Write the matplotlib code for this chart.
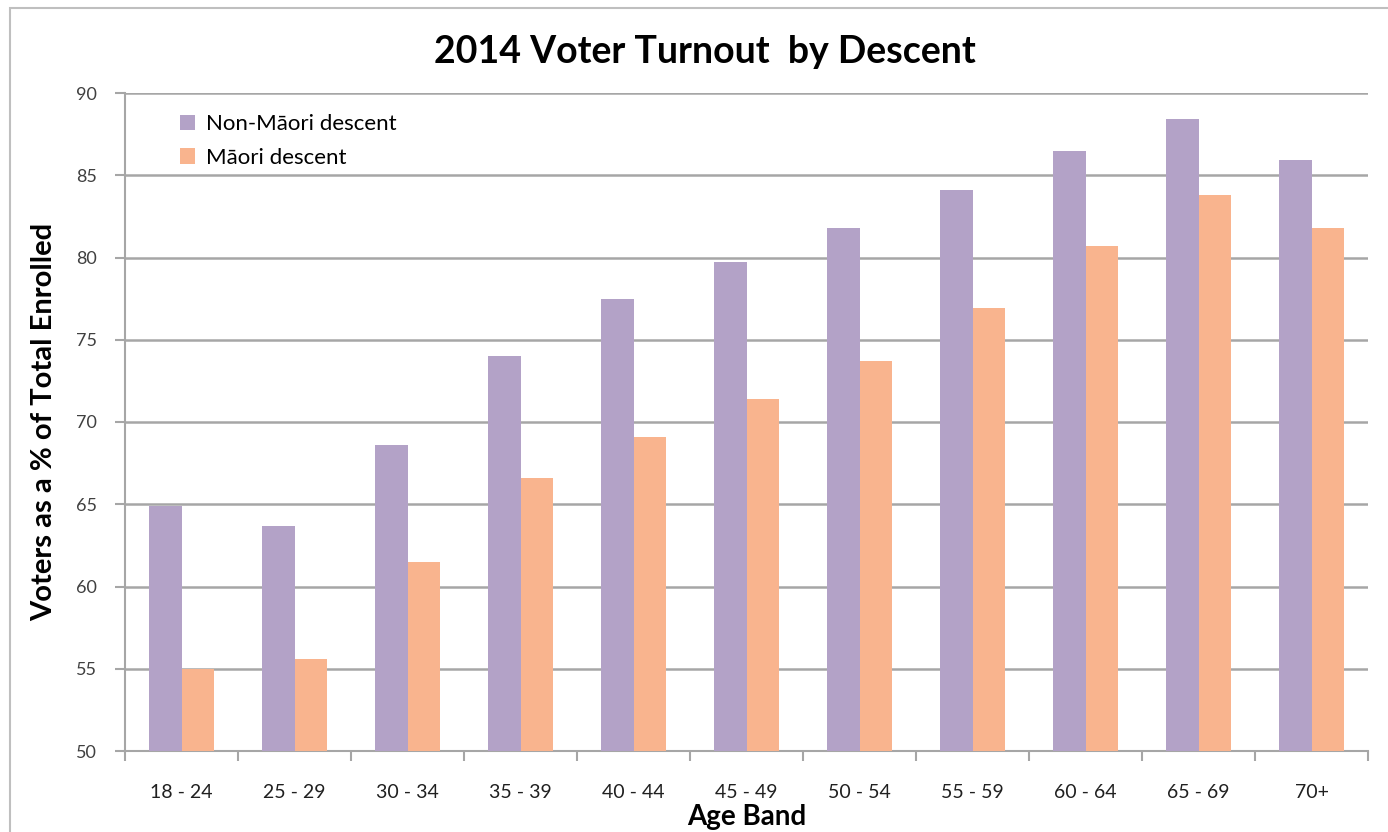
import numpy as np
import matplotlib.pyplot as plt
from matplotlib.patches import Rectangle

# Data
age_bands = ["18 - 24", "25 - 29", "30 - 34", "35 - 39", "40 - 44", "45 - 49",
             "50 - 54", "55 - 59", "60 - 64", "65 - 69", "70+"]
non_maori = [64.9, 63.7, 68.6, 74.0, 77.5, 79.7, 81.8, 84.1, 86.5, 88.4, 85.9]
maori = [55.0, 55.6, 61.5, 66.6, 69.1, 71.4, 73.7, 76.9, 80.7, 83.8, 81.8]

PURPLE = "#B3A2C7"
ORANGE = "#F9B48E"
GRID = "#A6A6A6"

plt.rcParams['font.family'] = ['Lato', 'DejaVu Sans']

fig = plt.figure(figsize=(13.88, 8.32), dpi=100)
ax = fig.add_axes([125 / 1388, 1 - 751 / 832, 1243 / 1388, 658 / 832])

# chart border like the Excel chart area
fig.patches.append(Rectangle((10 / 1388, -0.1), 1.2, 1 - 8 / 832 + 0.1,
                             transform=fig.transFigure, fill=False,
                             edgecolor="#BFBFBF", linewidth=1.5))

x = np.arange(len(age_bands))
w = 0.29
ax.bar(x - w / 2, non_maori, w, color=PURPLE, label="Non-Māori descent", zorder=3)
ax.bar(x + w / 2, maori, w, color=ORANGE, label="Māori descent", zorder=3)

ax.set_ylim(50, 90)
ax.set_xlim(-0.5, len(age_bands) - 0.5)
ax.set_yticks(range(50, 91, 5))
ax.yaxis.grid(True, color=GRID, linewidth=1.8, zorder=0)

ax.set_xticks(x)
ax.set_xticklabels(age_bands, fontsize=14, color="#202020")
ax.set_xticks(np.arange(-0.5, len(age_bands)), minor=True)
ax.tick_params(axis="x", which="major", length=0, pad=24)
ax.tick_params(axis="x", which="minor", length=7, color=GRID, width=1.5)
ax.tick_params(axis="y", length=7, color=GRID, width=1.5, labelsize=13,
               labelcolor="#404040", pad=13)

for side in ["top", "right"]:
    ax.spines[side].set_visible(False)
for side in ["left", "bottom"]:
    ax.spines[side].set_color(GRID)
    ax.spines[side].set_linewidth(1.5)

ax.set_ylabel("Voters as a % of Total Enrolled", fontsize=21, fontweight="bold",
              labelpad=14)
ax.set_xlabel("Age Band", fontsize=20, fontweight="bold", labelpad=2)
fig.text(0.508, 1 - 52 / 832, "2014 Voter Turnout  by Descent", fontsize=27,
         fontweight="bold", ha="center", va="center")

ax.legend(loc="upper left", bbox_to_anchor=(0.028, 0.998), frameon=False,
          fontsize=16, handlelength=0.7, handleheight=0.7, handletextpad=0.5,
          labelspacing=0.6)

fig.savefig("out.png", dpi=100)
